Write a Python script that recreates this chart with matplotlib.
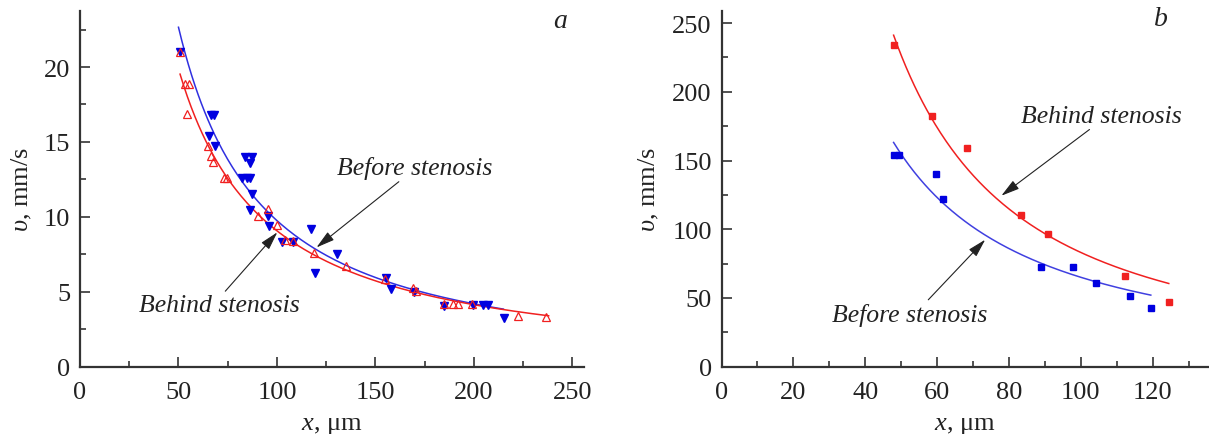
import numpy as np
import matplotlib.pyplot as plt
from matplotlib.ticker import MultipleLocator

plt.rcParams['font.family'] = 'Liberation Serif'
plt.rcParams['mathtext.fontset'] = 'custom'
plt.rcParams['mathtext.rm'] = 'Liberation Serif'
plt.rcParams['mathtext.it'] = 'Liberation Serif:italic'

# panel a: before stenosis (blue, filled triangles down)
a_before_x = [50.6, 66.4, 67.8, 65.6, 68.6, 84.0, 87.3, 86.5, 82.3, 84.6, 86.5, 87.5,
              86.1, 95.5, 96.0, 102.8, 108.2, 117.5, 119.2, 130.5, 155.3, 158.0,
              169.8, 185.0, 199.5, 204.8, 207.0, 215.3]
a_before_y = [21.0, 16.8, 16.8, 15.4, 14.7, 14.0, 14.0, 13.6, 12.6, 12.6, 12.6, 11.5,
              10.45, 10.05, 9.4, 8.34, 8.34, 9.19, 6.25, 7.5, 5.9, 5.19,
              4.98, 4.08, 4.15, 4.13, 4.13, 3.26]
# panel a: behind stenosis (red, open triangles up)
a_behind_x = [50.6, 53.3, 55.1, 54.1, 65.0, 66.6, 67.6, 72.9, 74.8, 95.3, 90.2, 100.2,
              104.3, 108.3, 118.8, 134.9, 155.0, 169.0, 170.7, 184.7, 189.5, 191.9,
              199.2, 222.4, 236.8]
a_behind_y = [21.0, 18.9, 18.9, 16.84, 14.75, 14.04, 13.68, 12.61, 12.61, 10.5, 10.08, 9.48,
              8.46, 8.42, 7.59, 6.71, 5.87, 5.25, 5.08, 4.2, 4.21, 4.21,
              4.2, 3.36, 3.35]

# panel b
b_before_x = [47.9, 49.5, 59.7, 61.6, 88.8, 97.8, 104.3, 113.8, 119.5]
b_before_y = [154.2, 154.2, 140.4, 121.7, 72.7, 72.7, 61.1, 51.6, 42.4]
b_behind_x = [47.9, 58.6, 68.3, 83.3, 90.9, 112.2, 124.5]
b_behind_y = [233.8, 182.3, 159.1, 110.1, 96.3, 65.7, 47.3]

# power-law fits v = A * x**(-p), (A, p, x_start, x_end)
a_before_fit = (2637.0, 1.216, 50.0, 215.0)
a_behind_fit = (1666.0, 1.132, 50.8, 238.0)
b_before_fit = (20480.0, 1.249, 47.9, 119.5)
b_behind_fit = (65130.0, 1.447, 47.9, 124.5)

BLUE = '#0000e0'
RED = '#f02020'
TXT = '#222222'


def fit_line(ax, fit, color):
    A, p, x0, x1 = fit
    xs = np.linspace(x0, x1, 200)
    ax.plot(xs, A * xs ** (-p), color=color, lw=1.1, zorder=2)


def style_axes(ax):
    for s in ['top', 'right']:
        ax.spines[s].set_visible(False)
    for s in ['left', 'bottom']:
        ax.spines[s].set_linewidth(1.6)
        ax.spines[s].set_color('#333333')
    ax.tick_params(which='both', direction='in', colors='#333333', width=1.2,
                   labelsize=19, labelcolor=TXT)
    ax.tick_params(which='major', length=7)
    ax.tick_params(which='minor', length=4.3)
    ax.tick_params(axis='x', pad=10)
    ax.tick_params(axis='y', pad=7)


arrow = dict(arrowstyle='-|>,head_length=0.8,head_width=0.22', color='#222222',
             lw=0.8, shrinkA=0, shrinkB=0, mutation_scale=14)

fig = plt.figure(figsize=(12.09, 4.35), dpi=100)

# ---- panel a
ax1 = fig.add_axes([0.0662, 0.1547, 0.4169, 0.8184])
fit_line(ax1, a_before_fit, '#3030e0')
fit_line(ax1, a_behind_fit, RED)
ax1.plot(a_before_x, a_before_y, 'v', color=BLUE, ms=5.5, ls='none', zorder=3)
ax1.plot(a_behind_x, a_behind_y, '^', mfc='none', mec=RED, mew=0.9, ms=5.2, ls='none', zorder=4)
ax1.set_xlim(0, 256)
ax1.set_ylim(0, 23.76)
ax1.xaxis.set_major_locator(MultipleLocator(50))
ax1.xaxis.set_minor_locator(MultipleLocator(25))
ax1.yaxis.set_major_locator(MultipleLocator(5))
ax1.yaxis.set_minor_locator(MultipleLocator(2.5))
style_axes(ax1)
ax1.set_xlabel('$x$, μm', fontsize=19, color=TXT, labelpad=8)
ax1.set_ylabel(r'$\upsilon$, mm/s', fontsize=19, color=TXT, labelpad=7)
ax1.annotate('Before stenosis', xy=(120.1, 7.96), xytext=(170, 13.3),
             fontsize=18.5, style='italic', color=TXT, ha='center', va='center',
             arrowprops=dict(arrow, relpos=(0.42, 0.0)))
ax1.annotate('Behind stenosis', xy=(100.2, 8.97), xytext=(70.9, 4.12),
             fontsize=18.5, style='italic', color=TXT, ha='center', va='center',
             arrowprops=dict(arrow, relpos=(0.52, 1.0)))
ax1.text(243.8, 23.1, 'a', fontsize=20, style='italic', color=TXT, ha='center', va='center')

# ---- panel b
ax2 = fig.add_axes([0.5968, 0.1547, 0.4032, 0.8184])
fit_line(ax2, b_before_fit, '#4040e0')
fit_line(ax2, b_behind_fit, RED)
ax2.plot(b_before_x, b_before_y, 's', color=BLUE, ms=4.5, ls='none', zorder=3)
ax2.plot(b_behind_x, b_behind_y, 's', color=RED, ms=4.5, ls='none', zorder=3)
ax2.set_xlim(0, 135.7)
ax2.set_ylim(0, 259)
ax2.xaxis.set_major_locator(MultipleLocator(20))
ax2.xaxis.set_minor_locator(MultipleLocator(10))
ax2.yaxis.set_major_locator(MultipleLocator(50))
ax2.yaxis.set_minor_locator(MultipleLocator(25))
style_axes(ax2)
ax2.set_xlabel('$x$, μm', fontsize=19, color=TXT, labelpad=8)
ax2.set_ylabel(r'$\upsilon$, mm/s', fontsize=19, color=TXT, labelpad=8)
ax2.annotate('Behind stenosis', xy=(77.9, 124.4), xytext=(105.7, 182.6),
             fontsize=18.5, style='italic', color=TXT, ha='center', va='center',
             arrowprops=dict(arrow, relpos=(0.45, 0.0)))
ax2.annotate('Before stenosis', xy=(73.4, 92.4), xytext=(52.5, 38.3),
             fontsize=18.5, style='italic', color=TXT, ha='center', va='center',
             arrowprops=dict(arrow, relpos=(0.6, 1.0)))
ax2.text(122.4, 253.4, 'b', fontsize=20, style='italic', color=TXT, ha='center', va='center')

fig.savefig('out.png', dpi=100)
